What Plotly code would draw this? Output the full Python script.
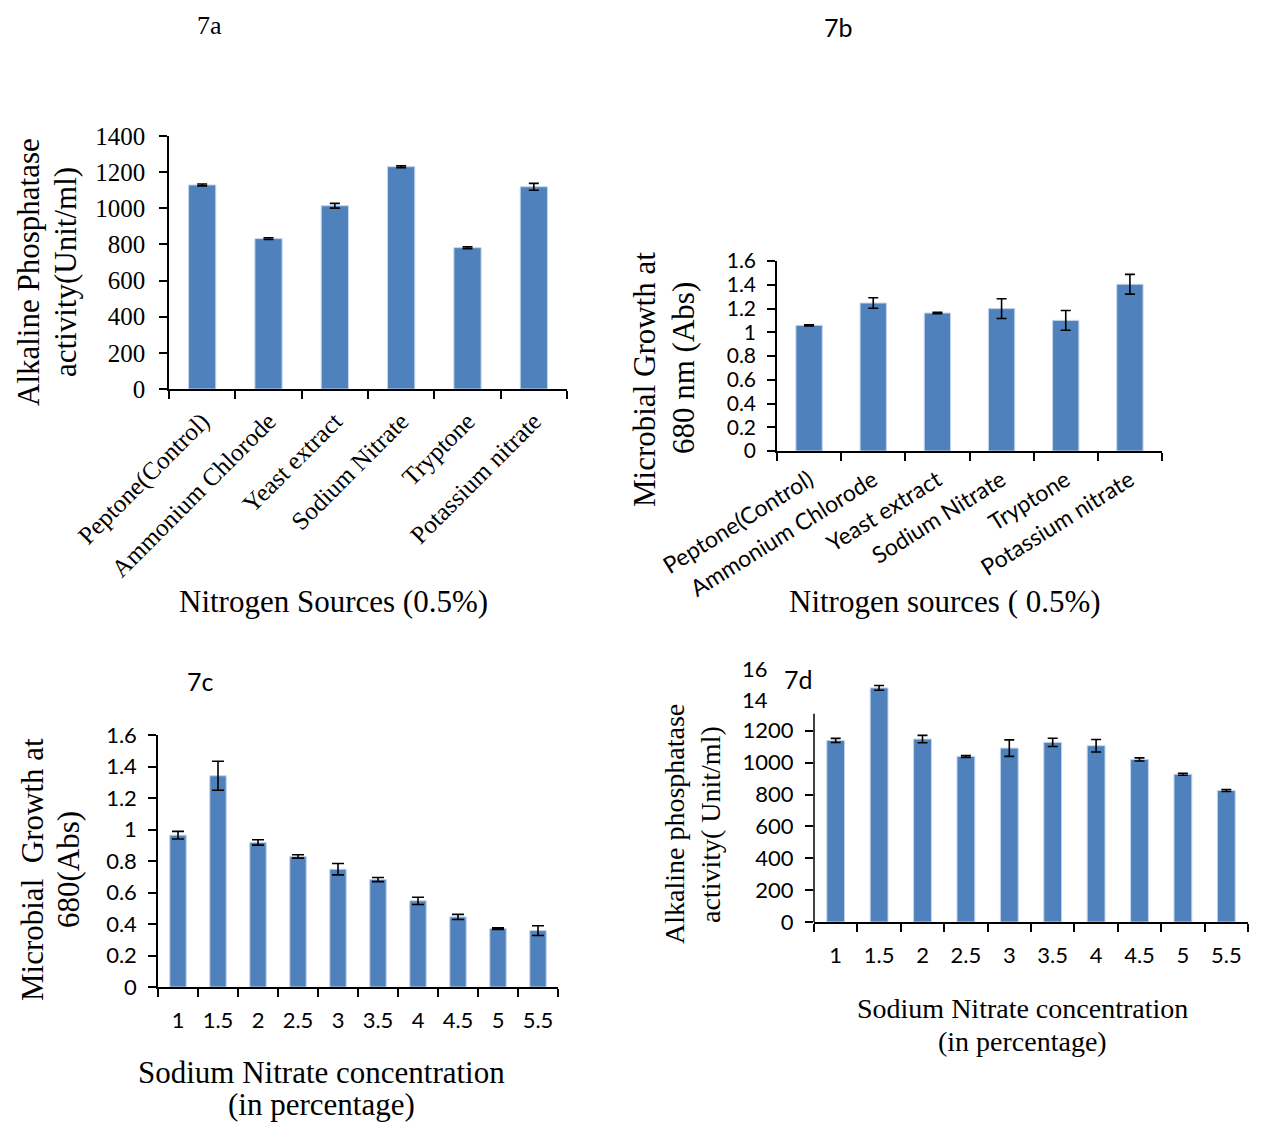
import plotly.graph_objects as go

# ---- data -----------------------------------------------------------------
nitrogen_sources = ["Peptone(Control)", "Ammonium Chlorode", "Yeast extract",
                    "Sodium Nitrate", "Tryptone", "Potassium nitrate"]

# 7a: alkaline phosphatase activity (Unit/ml) by nitrogen source
activity_sources = [1129, 832, 1014, 1230, 782, 1119]
activity_sources_err = [5, 5, 13, 5, 5, 19]

# 7b: microbial growth at 680 nm (Abs) by nitrogen source
growth_sources = [1.058, 1.246, 1.162, 1.199, 1.100, 1.404]
growth_sources_err = [0.005, 0.044, 0.005, 0.083, 0.083, 0.083]

nitrate_conc = ["1", "1.5", "2", "2.5", "3", "3.5", "4", "4.5", "5", "5.5"]

# 7c: microbial growth at 680 (Abs) by sodium nitrate concentration
growth_conc = [0.964, 1.341, 0.918, 0.829, 0.748, 0.682, 0.547, 0.445, 0.371, 0.358]
growth_conc_err = [0.024, 0.092, 0.017, 0.011, 0.036, 0.013, 0.023, 0.016, 0.005, 0.031]

# 7d: alkaline phosphatase activity (Unit/ml) by sodium nitrate concentration
activity_conc = [1139, 1469, 1148, 1039, 1091, 1127, 1106, 1020, 927, 825]
activity_conc_err = [13, 15, 23, 6, 52, 26, 39, 10, 6, 6]

# ---- styling --------------------------------------------------------------
W, H = 1264, 1122
SERIF = "Liberation Serif, Times New Roman, serif"
SANS = "Lato, Calibri, sans-serif"
BAR_COLOR = "#4f81bd"
EDGE_COLOR = "#c3d4ea"
TITLE_SIZE = 31
TITLE_SIZE_7D = 28


def px(x):
    return x / W


def py(y):
    return 1 - y / H


fig = go.Figure()


def add_bars(cats, vals, errs, xa, ya, cap):
    fig.add_trace(go.Bar(
        x=cats, y=vals, xaxis=xa, yaxis=ya, width=0.41,
        marker=dict(color=BAR_COLOR, line=dict(color=EDGE_COLOR, width=1)),
        error_y=dict(type="data", array=errs, color="black",
                     thickness=1.6, width=cap),
        showlegend=False, hoverinfo="x+y",
    ))


add_bars(nitrogen_sources, activity_sources, activity_sources_err, "x", "y", 5)
add_bars(nitrogen_sources, growth_sources, growth_sources_err, "x2", "y2", 5)
add_bars(nitrate_conc, growth_conc, growth_conc_err, "x3", "y3", 6)
add_bars(nitrate_conc, activity_conc, activity_conc_err, "x4", "y4", 5)

axis_common = dict(showgrid=False, zeroline=False, showline=True,
                   linecolor="black", linewidth=1.5, ticks="outside",
                   ticklen=8, tickcolor="black", tickwidth=1.5,
                   automargin=False)

xcat = dict(axis_common, type="category", tickson="boundaries")

fig.update_layout(
    template="none",
    width=W, height=H,
    margin=dict(l=0, r=0, t=0, b=0, pad=0),
    paper_bgcolor="white", plot_bgcolor="white",
    # 7a
    xaxis=dict(xcat, domain=[px(169), px(567)], anchor="y",
               range=[-0.5, 5.5], tickangle=-45, ticklabelstandoff=6,
               tickfont=dict(family=SERIF, size=25, color="black")),
    yaxis=dict(axis_common, domain=[py(389), py(136)], anchor="x",
               range=[0, 1400], dtick=200, ticklabelstandoff=9,
               tickfont=dict(family=SERIF, size=25, color="black")),
    # 7b
    xaxis2=dict(xcat, domain=[px(777), px(1162)], anchor="y2",
                range=[-0.5, 5.5], tickangle=-32, ticklabelstandoff=5,
                tickfont=dict(family=SANS, size=23, color="black")),
    yaxis2=dict(axis_common, domain=[py(451), py(261)], anchor="x2",
                range=[0, 1.6], dtick=0.2, ticklabelstandoff=7,
                tickfont=dict(family=SANS, size=21, color="black")),
    # 7c
    xaxis3=dict(xcat, domain=[px(158), px(558)], anchor="y3",
                range=[-0.5, 9.5], tickangle=0, ticklabelstandoff=13,
                tickfont=dict(family=SANS, size=22, color="black")),
    yaxis3=dict(axis_common, domain=[py(987), py(735)], anchor="x3",
                range=[0, 1.6], dtick=0.2, ticklabelstandoff=7,
                tickfont=dict(family=SANS, size=22, color="black")),
    # 7d
    xaxis4=dict(xcat, domain=[px(814), px(1248)], anchor="y4",
                range=[-0.5, 9.5], tickangle=0, ticklabelstandoff=13,
                tickfont=dict(family=SANS, size=22, color="black")),
    yaxis4=dict(axis_common, domain=[py(922), py(667)], anchor="x4",
                range=[0, 1600], tickvals=[0, 200, 400, 600, 800, 1000, 1200],
                showline=False, ticklabelstandoff=7,
                tickfont=dict(family=SANS, size=22, color="black")),
)

# 7d: broken value axis line stops below the tall 1.5 % bar
fig.add_shape(type="line", xref="x4 domain", yref="y4", x0=0, x1=0,
              y0=0, y1=1307, line=dict(color="black", width=1.5))

ann = []


def text(x, y, s, family, size, angle=0, xanchor="center"):
    ann.append(dict(x=px(x), y=py(y), xref="paper", yref="paper", text=s,
                    showarrow=False, textangle=angle, xanchor=xanchor,
                    yanchor="middle",
                    font=dict(family=family, size=size, color="black")))


# panel labels
text(209, 25, "7a", SERIF, 26)
text(838, 27, "7b", SANS, 25)
text(200, 681, "7c", SANS, 25)
text(798, 679, "7d", SANS, 25)

# truncated upper tick labels of the 7d value axis
text(740, 699, "14", SANS, 22, xanchor="left")
text(740, 668, "16", SANS, 22, xanchor="left")

# y-axis titles (two lines each)
text(28, 272, "Alkaline Phosphatase", SERIF, TITLE_SIZE, -90)
text(65, 272, "activity(Unit/ml)", SERIF, TITLE_SIZE, -90)
text(645, 380, "Microbial Growth at", SERIF, TITLE_SIZE, -90)
text(683, 368, "680 nm (Abs)", SERIF, TITLE_SIZE, -90)
text(32, 870, "Microbial\u00a0 Growth at", SERIF, TITLE_SIZE, -90)
text(68, 870, "680(Abs)", SERIF, TITLE_SIZE, -90)
text(674, 824, "Alkaline phosphatase", SERIF, TITLE_SIZE_7D, -90)
text(710, 825, "activity( Unit/ml)", SERIF, TITLE_SIZE_7D, -90)

# x-axis titles
text(333, 601, "Nitrogen Sources (0.5%)", SERIF, TITLE_SIZE)
text(945, 601, "Nitrogen sources ( 0.5%)", SERIF, TITLE_SIZE)
text(321, 1072, "Sodium Nitrate concentration", SERIF, TITLE_SIZE)
text(321, 1104, "(in percentage)", SERIF, TITLE_SIZE)
text(1022, 1008, "Sodium Nitrate concentration", SERIF, TITLE_SIZE_7D)
text(1022, 1041, "(in percentage)", SERIF, TITLE_SIZE_7D)

fig.update_layout(annotations=ann)

fig.write_html("out.html")
